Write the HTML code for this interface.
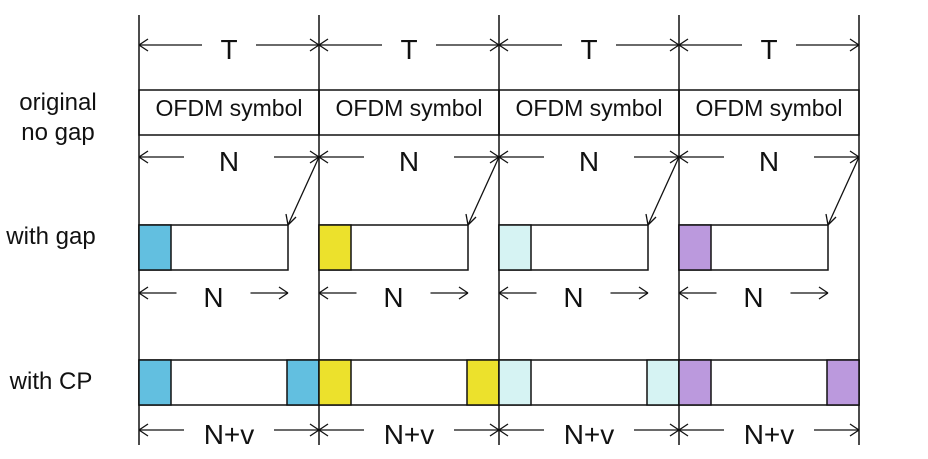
<!DOCTYPE html>
<html><head><meta charset="utf-8"><style>
body{margin:0;background:#fff}
svg text{font-family:"Liberation Sans",sans-serif;fill:#111}
</style></head><body>
<svg width="928" height="454" viewBox="0 0 928 454">
<g font-size="24" text-anchor="middle">
<text x="58" y="110">original</text>
<text x="58" y="140">no gap</text>
<text x="51" y="244">with gap</text>
<text x="51" y="389">with CP</text>
</g>
<g id="d"></g>
</svg>
<script>
const colors=['#62bfe0','#ece12c','#d6f3f3','#bb99dd'];
const x0=139,W=180,gap=149,cp=32;
const g=document.getElementById('d');
const NS='http://www.w3.org/2000/svg';
function el(t,a,name){const e=document.createElementNS(NS,t);for(const k in a)e.setAttribute(k,a[k]);


g.appendChild(e);return e;}
function line(x1,y1,x2,y2,name,w){return el('line',{x1,y1,x2,y2,stroke:'#111','stroke-width':w||1.3},name);}
function head(x,y,dir,name){line(x,y,x+dir*9,y-6,name);line(x,y,x+dir*9,y+6,name);}
function txt(x,y,s,fs,name){const t=el('text',{x,y,'font-size':fs,'text-anchor':'middle'},name);t.textContent=s;}
function dim(xa,xb,y,label,name,tw){const c=(xa+xb)/2;line(xa,y,c-tw,y,name);line(c+tw,y,xb,y,name);head(xa,y,1,name);head(xb,y,-1,name);txt(c,y+14,label,28,name+'-label');}
for(let i=0;i<=4;i++) line(x0+i*W,15,x0+i*W,445,'divider-'+i,1.5);
for(let i=0;i<4;i++){
 const x=x0+i*W;
 dim(x,x+W,45,'T','t-dim-'+i,27);
 el('rect',{x:x,y:90,width:W,height:45,fill:'none',stroke:'#111','stroke-width':1.5},'ofdm-box-'+i);
 txt(x+W/2,116,'OFDM symbol',23,'ofdm-text-'+i);
 dim(x,x+W,157,'N','n-dim-'+i,45);
 el('rect',{x:x,y:225,width:gap,height:45,fill:'#fff',stroke:'#111','stroke-width':1.5},'gap-box-'+i);
 el('rect',{x:x,y:225,width:cp,height:45,fill:colors[i],stroke:'#111','stroke-width':1.5},'gap-prefix-'+i);
 line(x+W,157,x+gap,225,'wrap-arrow-'+i);
 line(x+gap,225,x+gap-2,214,'wrap-arrow-head-'+i);line(x+gap,225,x+gap+8,217,'wrap-arrow-head-'+i);
 dim(x,x+gap,293,'N','n-gap-dim-'+i,37);
 el('rect',{x:x,y:360,width:W,height:45,fill:'#fff',stroke:'#111','stroke-width':1.5},'cp-box-'+i);
 el('rect',{x:x,y:360,width:cp,height:45,fill:colors[i],stroke:'#111','stroke-width':1.5},'cp-head-'+i);
 el('rect',{x:x+W-cp,y:360,width:cp,height:45,fill:colors[i],stroke:'#111','stroke-width':1.5},'cp-tail-'+i);
 dim(x,x+W,430,'N+v','nv-dim-'+i,45);
}
</script>
</body></html>
